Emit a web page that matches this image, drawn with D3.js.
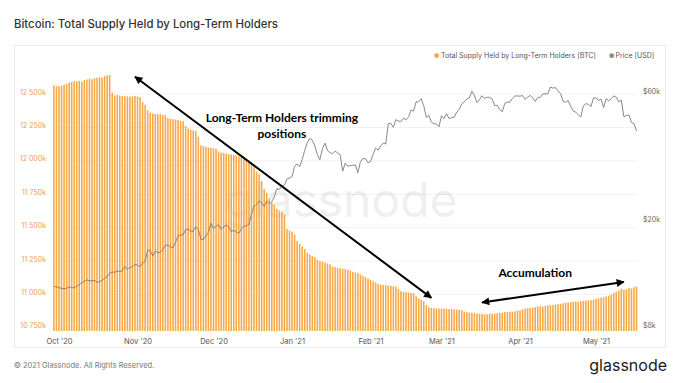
<!DOCTYPE html>
<html><head><meta charset="utf-8">
<script src="https://cdn.jsdelivr.net/npm/d3@7"></script>
<style>
body{margin:0;background:#fff;}
svg{display:block;font-family:Inter,"Noto Sans",sans-serif;}
</style>
</head><body>
<svg id="c" width="680" height="383"></svg>
<script>
// ---------- DATA ----------
const startDate = "2020-09-29"; // first daily bar
// Total Supply Held by Long-Term Holders, thousand BTC (daily)
const supply = [
12565,12560,12558,12562,12570,12575,
12585,12590,12595,12595,12598,12592,
12605,12610,12612,12610,12618,12622,12625,12622,
12635,12640,12642,12510,
12490,12492,12488,12485,12485,12482,12480,12483,12485,12482,
12478,12440,12420,12380,
12360,12355,12350,12350,12348,12345,12342,
12320,12315,12312,12310,12305,12300,12298,12260,
12240,12232,12228,12225,12180,
12115,12110,12105,12100,12098,12095,12090,
12070,12062,12058,12055,12050,12048,12045,12040,12035,
12030,12020,12005,11995,11985,11975,
11920,11900,11850,11790,11760,11720,11690,11670,
11640,11630,11620,11600,11490,11480,11470,11450,
11400,11380,11360,11340,11310,11300,11290,11280,
11260,11250,11245,11240,11232,11225,
11210,11205,11200,11196,11193,11190,11185,11180,
11170,11165,11160,11150,11140,11130,11120,
11110,11100,11090,11080,11075,
11072,11070,11068,11065,11062,11060,
11040,11025,11020,11018,11015,11012,11010,
10985,10970,10960,10950,
10920,10905,10900,10898,10896,10895,10893,10895,10895,10892,10890,10890,10888,10885,10882,
10872,10868,10865,10862,10860,10858,10856,
10855,10853,10852,10855,10856,10858,10860,
10862,10865,10868,10870,10872,10870,10875,10878,10882,
10890,10895,10898,10900,10902,10905,10910,10912,10910,10915,10918,
10920,10922,10925,10928,10930,
10935,10938,10940,10944,10945,10948,10946,10950,10952,10955,10955,10958,10962,
10968,10972,10976,10980,10985,10990,
11000,11010,11020,11030,11045,11035,11040,11050,11045,11055,11060
];
// BTC price, thousand USD (daily, same dates)
const priceK = [
11.45,11.4,11.3,11.25,11.2,11.25,11.4,11.3,11.3,11.45,
11.6,11.8,11.95,12.1,12.0,12.0,12.05,11.85,11.9,12.05,
12.25,12.45,12.8,12.95,12.9,13.05,13.0,13.05,13.6,13.25,
13.45,13.55,13.8,13.75,13.55,14.0,14.15,15.6,15.6,14.85,
15.5,15.3,15.3,15.7,16.3,16.3,16.05,15.95,16.7,17.65,
17.8,17.8,18.65,18.7,18.4,18.35,19.1,18.7,17.15,17.1,
17.7,18.2,19.7,18.8,19.2,19.45,18.7,19.15,19.35,19.15,
18.3,18.55,18.25,18.05,18.8,19.15,19.25,19.45,21.3,22.8,
23.1,23.85,23.5,22.75,23.8,23.25,23.7,24.7,26.5,26.3,
27.1,27.35,28.8,29.0,29.4,32.1,32.8,32.0,34.0,36.8,
39.4,40.8,40.2,38.2,35.5,34.0,37.4,39.2,36.8,36.1,
35.8,36.6,36.0,35.5,30.8,33.0,32.1,32.3,32.4,32.5,
30.4,33.4,34.3,34.3,33.1,33.5,35.5,37.6,36.9,38.3,
39.2,38.9,46.4,46.5,44.9,48.0,47.4,47.2,48.6,47.9,
49.1,52.1,51.6,55.9,55.9,57.4,54.1,48.9,49.7,47.0,
46.3,46.2,45.1,49.6,48.4,50.5,48.4,48.8,48.9,51.2,
52.3,54.9,55.9,57.3,57.8,61.2,59.0,55.6,56.9,58.9,
57.6,58.1,58.1,57.3,54.1,54.3,52.3,51.3,55.2,55.8,
55.8,57.6,58.8,58.8,58.7,59.0,57.1,58.2,59.1,57.9,
56.1,58.1,58.1,59.8,59.9,59.9,63.5,62.9,63.2,61.4,
60.0,56.2,55.7,56.5,53.8,51.7,51.1,50.1,49.0,54.0,
55.0,54.8,53.6,57.8,57.8,56.6,57.2,53.2,57.5,56.4,
57.3,58.8,58.2,55.9,56.7,49.2,49.7,49.9,46.8,46.4,
43.5
];
const supplyTicks = [10750,11000,11250,11500,11750,12000,12250,12500];
const priceTicks = [8,20,60];
const monthTicks = ["2020-10-01","2020-11-01","2020-12-01","2021-01-01","2021-02-01","2021-03-01","2021-04-01","2021-05-01"];
const monthLabels = ["Oct '20","Nov '20","Dec '20","Jan '21","Feb '21","Mar '21","Apr '21","May '21"];
const titleText = "Bitcoin: Total Supply Held by Long-Term Holders";
const legendItems = ["Total Supply Held by Long-Term Holders [BTC]","Price [USD]"];
const annoTrim = {from:["2020-10-31",12630], to:["2021-02-25",10975], text:["Long-Term Holders trimming","positions"], at:["2020-12-28",12290]};
const annoAcc = {from:["2021-03-17",10941], to:["2021-05-12",11094], text:["Accumulation"], at:["2021-04-07",11131]};

// ---------- LAYOUT ----------
const svg = d3.select("#c");
const M = {left:53, right:637, top:70, bottom:331};
const ORANGE = "#f6a746", ORANGE_TXT = "#f0a04b";
const parse = d3.utcParse("%Y-%m-%d");
const t0 = parse(startDate);
const dates = supply.map((_, i) => d3.utcDay.offset(t0, i));

const x = d3.scaleUtc().domain([parse(monthTicks[0]), parse(monthTicks[7])]).range([59, 596]);
const yL = d3.scaleLinear().domain([10727, 12680]).range([M.bottom, M.top]);
const yR = d3.scaleLog().domain([7.794, 73.5]).range([M.bottom, M.top]);

// title
svg.append("text").attr("x",14).attr("y",27.5).attr("font-size",11.4).attr("font-weight",500)
  .attr("fill","#333").text(titleText);
// panel
svg.append("rect").attr("x",14.5).attr("y",45.5).attr("width",651).attr("height",302)
  .attr("fill","none").attr("stroke","#e9e9e9");

// legend
const lg = svg.append("g").attr("font-size",7).attr("fill","#555");
lg.append("circle").attr("cx",436.7).attr("cy",55.7).attr("r",2.4).attr("fill",ORANGE);
lg.append("text").attr("x",441).attr("y",58.2).text(legendItems[0]);
lg.append("circle").attr("cx",611.7).attr("cy",55.7).attr("r",2.4).attr("fill","#8a8a8a");
lg.append("text").attr("x",615.5).attr("y",58.2).text(legendItems[1]);

// grid
svg.append("g").selectAll("line").data(supplyTicks).join("line")
  .attr("x1",M.left).attr("x2",M.right).attr("y1",d=>yL(d)).attr("y2",d=>yL(d))
  .attr("stroke","#f1f1f1");

// watermark
svg.append("text").attr("x",(M.left+M.right)/2-4).attr("y",(M.top+M.bottom)/2+16)
  .attr("text-anchor","middle").attr("font-size",48).attr("fill","#000").attr("opacity",0.06)
  .attr("font-family","Inter, sans-serif").text("glassnode");

// bars
const bw = 1.55;
svg.append("g").selectAll("rect").data(supply).join("rect")
  .attr("x",(d,i)=>x(dates[i])-bw/2).attr("width",bw)
  .attr("y",d=>yL(d)).attr("height",d=>M.bottom-yL(d))
  .attr("fill",ORANGE);

// price line
svg.append("path").datum(priceK)
  .attr("d", d3.line().x((d,i)=>x(dates[i])).y(d=>yR(d)))
  .attr("fill","none").attr("stroke","#7a7a7a").attr("stroke-width",0.9);

// left axis
const axL = svg.append("g").attr("transform",`translate(${M.left-4},0)`)
  .call(d3.axisLeft(yL).tickValues(supplyTicks).tickSize(0)
    .tickFormat(d=>d3.format(",")(d).replace(","," ")+"k"));
axL.select(".domain").remove();
axL.selectAll("text").attr("fill",ORANGE_TXT).attr("font-size",7).attr("font-family","Inter, sans-serif").attr("dy","0.0em");

// right axis
const axR = svg.append("g").attr("transform",`translate(${M.right+3},0)`)
  .call(d3.axisRight(yR).tickValues(priceTicks).tickSize(0).tickFormat(d=>"$"+d+"k"));
axR.select(".domain").remove();
axR.selectAll("text").attr("fill","#666").attr("font-size",7).attr("font-family","Inter, sans-serif").attr("dy","0.0em");

// bottom axis
const axB = svg.append("g").attr("transform",`translate(0,${M.bottom+5})`)
  .call(d3.axisBottom(x).tickValues(monthTicks.map(parse)).tickSize(0)
    .tickFormat((d,i)=>monthLabels[i]));
axB.select(".domain").remove();
axB.selectAll("text").attr("fill","#555").attr("font-size",7.5).attr("font-family","Inter, sans-serif");

// footer
svg.append("text").attr("x",14).attr("y",368).attr("font-size",7.5).attr("fill","#777")
  .text("© 2021 Glassnode. All Rights Reserved.");
svg.append("text").attr("x",667).attr("y",371).attr("text-anchor","end").attr("font-size",16)
  .attr("fill","#1b1b1b").text("glassnode");

// annotations
const defs = svg.append("defs");
defs.append("marker").attr("id","ah").attr("viewBox","0 0 10 10").attr("refX",9).attr("refY",5)
  .attr("markerWidth",9).attr("markerHeight",8).attr("markerUnits","userSpaceOnUse")
  .attr("orient","auto-start-reverse")
  .append("path").attr("d","M0,0 L10,5 L0,10 z").attr("fill","#000");
function arrow(a){
  svg.append("line")
    .attr("x1",x(parse(a.from[0]))).attr("y1",yL(a.from[1]))
    .attr("x2",x(parse(a.to[0]))).attr("y2",yL(a.to[1]))
    .attr("stroke","#000").attr("stroke-width",2)
    .attr("marker-start","url(#ah)").attr("marker-end","url(#ah)");
  const t = svg.append("text").attr("font-family","Lato, sans-serif").attr("font-weight",700)
    .attr("font-size",12).attr("fill","#000").attr("text-anchor","middle");
  a.text.forEach((s,k)=>t.append("tspan").attr("x",x(parse(a.at[0])))
    .attr("y",yL(a.at[1])+k*15.5).text(s));
}
arrow(annoTrim);
arrow(annoAcc);
</script>
</body></html>
